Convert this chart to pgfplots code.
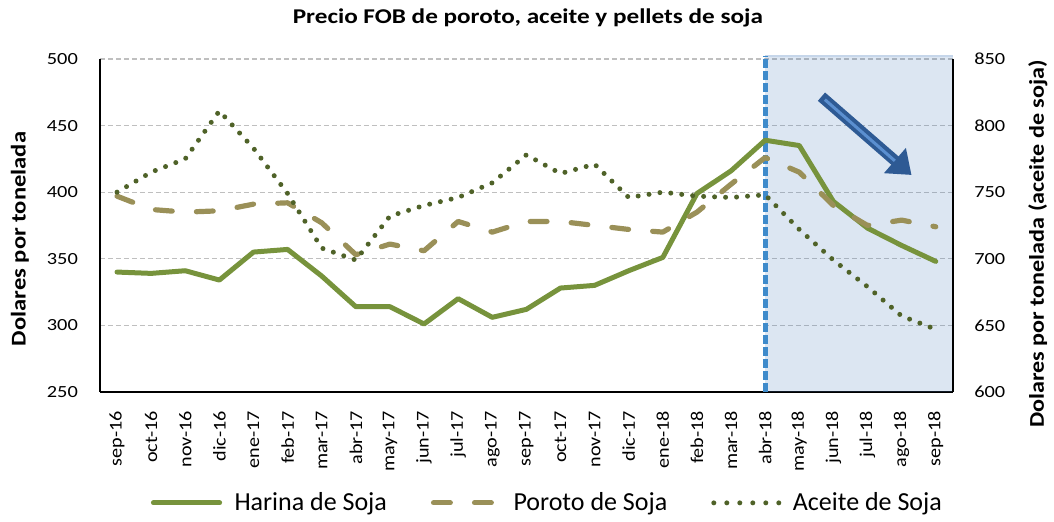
\documentclass[border=0pt]{standalone}
\usepackage{fontspec}
\setmainfont{Carlito}
\usepackage{pgfplots}
\pgfplotsset{compat=1.18}
\usetikzlibrary{arrows.meta}
\newfontfamily\titlefont[FakeStretch=1.2]{Carlito}
\newfontfamily\tickfont[FakeStretch=1.2]{Carlito}
\newfontfamily\xtickfont[FakeStretch=1.12]{Carlito}
\newfontfamily\labelfontL[FakeStretch=1.17]{Carlito}
\newfontfamily\labelfontR[FakeStretch=1.15]{Carlito}
\definecolor{harina}{HTML}{77933C}
\definecolor{poroto}{HTML}{9A9058}
\definecolor{aceite}{HTML}{4F6228}
\definecolor{shadebase}{HTML}{4F81BD}
\definecolor{shadeedge}{HTML}{C6D6EA}
\definecolor{vline}{HTML}{3F8BCB}
\definecolor{arrowdark}{HTML}{2E5A94}
\definecolor{arrowlight}{HTML}{5B8FD0}
\definecolor{gridgray}{HTML}{BFBFBF}
\pgfplotsset{
  common/.style={
    scale only axis, width=426.5pt, height=166.5pt, at={(0pt,0pt)}, anchor=south west,
    xmin=-0.5, xmax=24.5, major tick length=0pt,
    /pgf/number format/assume math mode=true,
    axis line style={line width=1pt, black},
  },
  harinastyle/.style={harina, line width=2.5pt, line join=round, line cap=round},
  porotostyle/.style={poroto, line width=2.6pt, line join=round, line cap=round, dash pattern=on 8.4pt off 12.1pt},
  aceitestyle/.style={aceite, line width=2.5pt, line cap=round, dash pattern=on 0pt off 5.5pt},
  baseleg/.style={legend image code/.code={\draw[##1] (1.2pt,0pt) -- (34.3pt,0pt); \path (38.5pt,0pt);}},
  porotoleg/.style={legend image code/.code={\draw[##1] (1.3pt,0pt) -- (31pt,0pt); \path (38pt,0pt);}},
  aceiteleg/.style={legend image code/.code={\draw[##1, dash pattern=on 0pt off 6.5pt] (1.2pt,0pt) -- (33.8pt,0pt); \path (37.5pt,0pt);}},
}
\begin{document}
\begin{tikzpicture}
\begin{axis}[common,
  ymin=250, ymax=500, ytick={250,300,...,500},
  axis x line*=bottom, axis y line*=left,
  ymajorgrids, grid style={gridgray, line width=0.6pt, dash pattern=on 2.5pt off 1.5pt},
  xtick={0,...,24},
  xticklabels={sep-16,oct-16,nov-16,dic-16,ene-17,feb-17,mar-17,abr-17,may-17,jun-17,jul-17,ago-17,sep-17,oct-17,nov-17,dic-17,ene-18,feb-18,mar-18,abr-18,may-18,jun-18,jul-18,ago-18,sep-18},
  xticklabel style={rotate=90, anchor=east, font=\xtickfont\fontsize{9}{10}\selectfont},
  yticklabel style={font=\tickfont\fontsize{8.5}{10}\selectfont},
  xticklabel shift=6pt, yticklabel shift=7.5pt,
  clip=false]
\fill[shadebase, fill opacity=0.2] (axis cs:19,250) rectangle (axis cs:24.5,502.3);
\draw[shadeedge, line width=0.8pt] (axis cs:19,502.3) -- (axis cs:24.5,502.3);
\draw[vline, line width=2.5pt, dash pattern=on 4.5pt off 1.5pt] (axis cs:19,250) -- (axis cs:19,502.3);
\addplot[harinastyle] coordinates {
(0,340) (1,339) (2,341) (3,334) (4,355) (5,357) (6,337) (7,314) (8,314) (9,301)
(10,320) (11,306) (12,312) (13,328) (14,330) (15,341) (16,351) (17,399) (18,416) (19,439)
(20,435) (21,393) (22,373) (23,360) (24,348)};
\addplot[porotostyle] coordinates {
(0,397) (1,387) (2,385) (3,386) (4,391) (5,392) (6,377) (7,353) (8,361) (9,356)
(10,378) (11,370) (12,378) (13,378) (14,375) (15,372) (16,370) (17,385) (18,406) (19,426)
(20,415) (21,390) (22,375) (23,379) (24,374)};
\draw[arrowdark, line width=5.5pt, -{Triangle[length=11pt, width=16pt]}] (axis cs:20.65,471.7) -- (axis cs:23.29,412.9);
\draw[arrowlight, line width=1.5pt] (axis cs:20.75,469.5) -- (axis cs:22.8,423.5);
\end{axis}
\begin{axis}[common,
  ymin=600, ymax=850, ytick={600,650,...,850},
  axis y line*=right, axis x line=none, xtick=\empty,
  yticklabel style={font=\tickfont\fontsize{8.5}{10}\selectfont},
  yticklabel shift=7.2pt,
  legend columns=3,
  legend style={at={(0.5258,-0.3333)}, anchor=center, draw=none, fill=none,
    font=\fontsize{13}{15}\selectfont,
    /tikz/every even column/.append style={column sep=20pt}},
  legend cell align=left]
\addlegendimage{harinastyle, baseleg}
\addlegendimage{porotostyle, porotoleg}
\addplot[aceitestyle, aceiteleg] coordinates {
(0,750) (1,765) (2,775) (3,811) (4,783) (5,749) (6,708) (7,699) (8,732) (9,740)
(10,746) (11,757) (12,778) (13,764) (14,771) (15,746) (16,750) (17,747) (18,746) (19,748)
(20,722) (21,699) (22,679) (23,657) (24,647)};
\legend{Harina de Soja, Poroto de Soja, Aceite de Soja}
\end{axis}
\node[font=\titlefont\bfseries\fontsize{10.5}{12}\selectfont] at (214pt,187pt) {Precio FOB de poroto, aceite y pellets de soja};
\node[rotate=90, font=\labelfontL\bfseries\fontsize{10.5}{12}\selectfont] at (-40pt,76.5pt) {Dolares por tonelada};
\node[rotate=90, font=\labelfontR\bfseries\fontsize{10.5}{12}\selectfont] at (469pt,74pt) {Dolares por tonelada (aceite de soja)};
\path (-50pt,-63pt) rectangle (477pt,196pt);
\end{tikzpicture}
\end{document}
